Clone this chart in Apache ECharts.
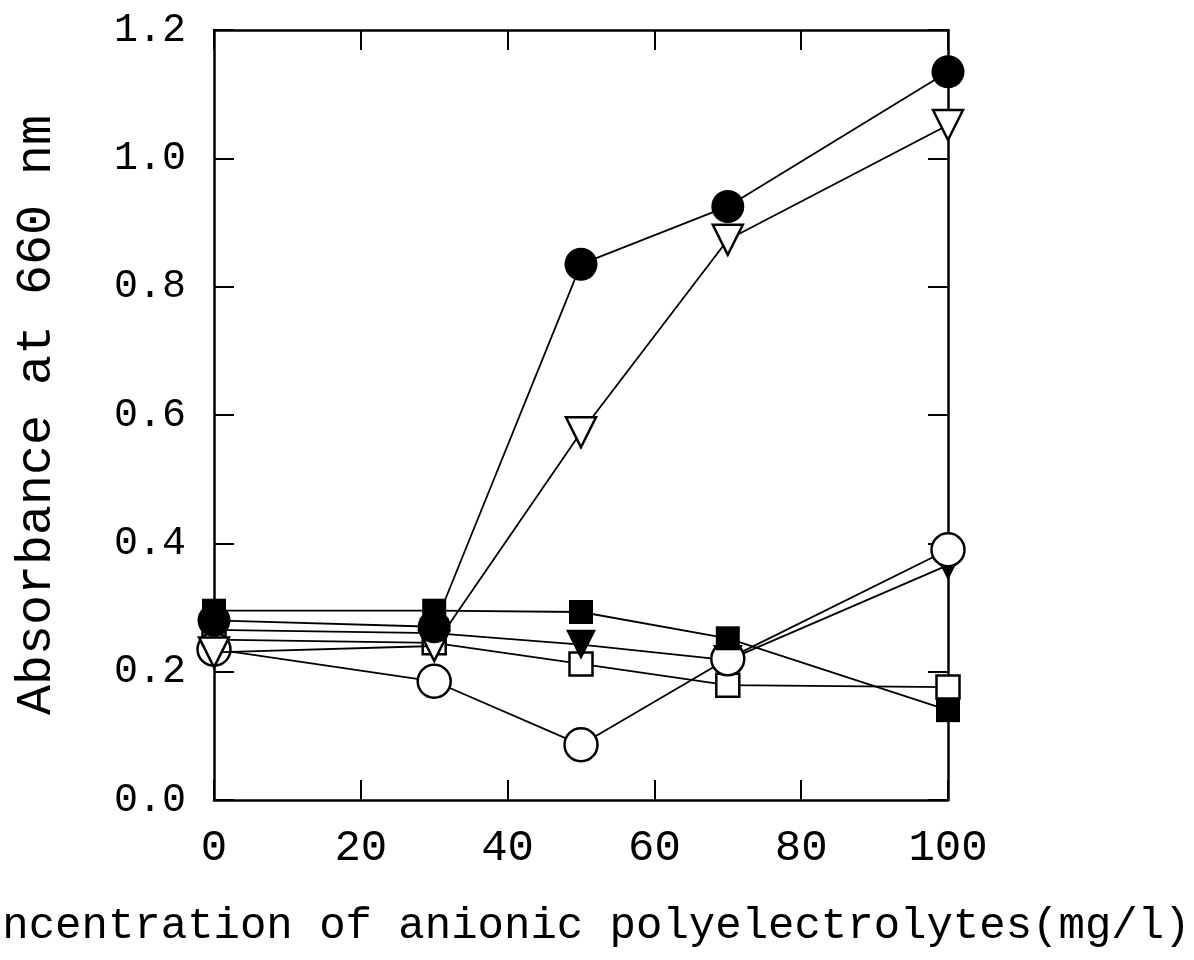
<!DOCTYPE html>
<html>
<head>
<meta charset="utf-8">
<script src="https://cdn.jsdelivr.net/npm/echarts@6/dist/echarts.min.js"></script>
<style>
html,body{margin:0;padding:0;background:#fff;}
#chart{width:1194px;height:960px;}
</style>
</head>
<body>
<div id="chart"></div>
<script>
const concentrations = [0, 30, 50, 70, 100];
const filledCircle   = [0.28, 0.27, 0.835, 0.925, 1.135];
const openTriangle   = [0.23, 0.24, 0.573, 0.873, 1.052];
const openCircle     = [0.235, 0.185, 0.086, 0.22, 0.39];
const filledTriangle = [0.265, 0.26, 0.242, 0.218, 0.366];
const filledSquare   = [0.295, 0.295, 0.293, 0.252, 0.14];
const openSquare     = [0.25, 0.245, 0.212, 0.179, 0.176];
const xTicks = [0, 20, 40, 60, 80, 100];
const yTicks = [0.0, 0.2, 0.4, 0.6, 0.8, 1.0, 1.2];

const FONT = '"Liberation Mono", "DejaVu Sans Mono", monospace';

function pairs(vals){ return concentrations.map((x,i)=>[x, vals[i]]); }

function mk(name, vals, symbol, size, filled, rotate, z){
  return {
    name: name, type: 'line', data: pairs(vals),
    symbol: symbol, symbolSize: size, symbolRotate: rotate || 0,
    showAllSymbol: true, z: z,
    lineStyle: {color: '#000', width: 1.8},
    itemStyle: {color: filled ? '#000' : '#fff', borderColor: '#000', borderWidth: filled ? 0 : 2.5},
    emphasis: {disabled: true}, animation: false
  };
}

const chart = echarts.init(document.getElementById('chart'));
const axisLine = {show: true, onZero: false, lineStyle: {color: '#000', width: 2.5}};
const axisTick = {show: true, inside: true, length: 20, lineStyle: {color: '#000', width: 2}};
chart.setOption({
  backgroundColor: '#fff',
  animation: false,
  grid: {left: 214, right: 246, top: 30, bottom: 160, containLabel: false, outerBoundsMode: 'none'},
  xAxis: [{
    type: 'value', position: 'bottom', min: xTicks[0], max: xTicks[xTicks.length-1], interval: 20,
    name: 'Concentration of anionic polyelectrolytes(mg/l)',
    nameLocation: 'middle', nameGap: 104,
    nameTextStyle: {fontFamily: FONT, fontSize: 44, color: '#000', padding: [0, 22, 0, 0]},
    axisLine: axisLine, axisTick: axisTick, splitLine: {show: false},
    axisLabel: {fontFamily: FONT, fontSize: 44, color: '#000', margin: 26}
  },{
    type: 'value', position: 'top', min: xTicks[0], max: xTicks[xTicks.length-1], interval: 20,
    axisLine: axisLine, axisTick: axisTick, splitLine: {show: false}, axisLabel: {show: false}
  }],
  yAxis: [{
    type: 'value', position: 'left', min: yTicks[0], max: yTicks[yTicks.length-1], interval: 0.2,
    name: 'Absorbance at 660 nm', nameLocation: 'middle', nameGap: 152, nameRotate: 90,
    nameTextStyle: {fontFamily: FONT, fontSize: 50, color: '#000'},
    axisLine: axisLine, axisTick: axisTick, splitLine: {show: false},
    axisLabel: {fontFamily: FONT, fontSize: 40, color: '#000', margin: 28, formatter: v => v.toFixed(1)}
  },{
    type: 'value', position: 'right', min: yTicks[0], max: yTicks[yTicks.length-1], interval: 0.2,
    axisLine: axisLine, axisTick: axisTick, splitLine: {show: false}, axisLabel: {show: false}
  }],
  series: [
    mk('open square', openSquare, 'rect', 23, false, 0, 2),
    mk('filled triangle', filledTriangle, 'triangle', 30, true, 180, 3),
    mk('open circle', openCircle, 'circle', 33, false, 0, 4),
    mk('filled square', filledSquare, 'rect', 24, true, 0, 5),
    mk('open triangle', openTriangle, 'triangle', 30, false, 180, 6),
    mk('filled circle', filledCircle, 'circle', 33, true, 0, 7)
  ]
});
</script>
</body>
</html>
